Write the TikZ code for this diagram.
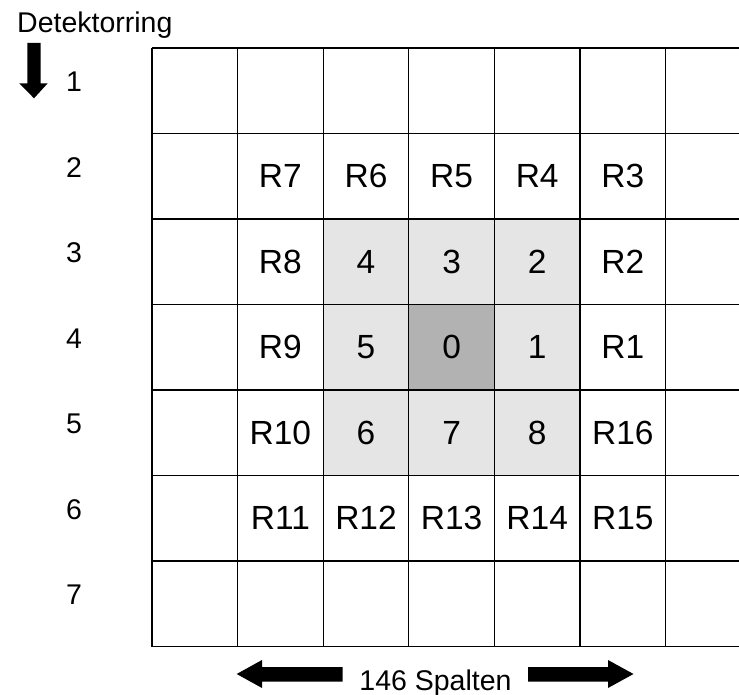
\documentclass[tikz,border=0pt]{standalone}
\usepackage{fontspec}
\setmainfont{Liberation Sans}
\begin{document}
\begin{tikzpicture}[x=1pt,y=-1pt,
  gridline/.style={line width=1.1pt,black},
  lab/.style={inner sep=0pt,font=\fontsize{33.5}{36}\selectfont},
  ringlab/.style={inner sep=0pt,font=\fontsize{28.5}{32}\selectfont},
  blockarrow/.style={fill=black,draw=none}]
\useasboundingbox (0,0) rectangle (739,695);
\def\cw{85.6}
\def\rh{85.5}
% shaded cells
\fill[gray!20] (152+2*\cw,48+2*\rh) rectangle (152+5*\cw,48+5*\rh);
\fill[gray!60] (152+3*\cw,48+3*\rh) rectangle (152+4*\cw,48+4*\rh);
% grid
\begin{scope}
\clip (0,0) rectangle (739,695);
\foreach \k in {0,...,7} {
  \draw[gridline] (152,48+\k*\rh) -- (760,48+\k*\rh);
  \draw[gridline] (152+\k*\cw,48) -- (152+\k*\cw,48+7*\rh);
}
\end{scope}
% cell centres
\foreach \c in {1,...,7} {
  \foreach \r in {1,...,7} {
    \coordinate (c\c r\r) at (152+\c*\cw-0.5*\cw,48+\r*\rh-0.5*\rh);
  }
}
% labels
\node[lab] (r7) at (c2r2) {R7};
\node[lab] (r6) at (c3r2) {R6};
\node[lab] (r5) at (c4r2) {R5};
\node[lab] (r4) at (c5r2) {R4};
\node[lab] (r3) at (c6r2) {R3};
\node[lab] (r8) at (c2r3) {R8};
\node[lab] (n4) at (c3r3) {4};
\node[lab] (n3) at (c4r3) {3};
\node[lab] (n2) at (c5r3) {2};
\node[lab] (r2) at (c6r3) {R2};
\node[lab] (r9) at (c2r4) {R9};
\node[lab] (n5) at (c3r4) {5};
\node[lab] (n0) at (c4r4) {0};
\node[lab] (n1) at (c5r4) {1};
\node[lab] (r1) at (c6r4) {R1};
\node[lab] (r10) at (c2r5) {R10};
\node[lab] (n6) at (c3r5) {6};
\node[lab] (n7) at (c4r5) {7};
\node[lab] (n8) at (c5r5) {8};
\node[lab] (r16) at (c6r5) {R16};
\node[lab] (r11) at (c2r6) {R11};
\node[lab] (r12) at (c3r6) {R12};
\node[lab] (r13) at (c4r6) {R13};
\node[lab] (r14) at (c5r6) {R14};
\node[lab] (r15) at (c6r6) {R15};
% row labels
\foreach \r in {1,...,7} {
  \node[ringlab] (row\r) at (74,48+\r*\rh-0.5*\rh-9) {\r};
}
% title
\node[ringlab,anchor=base west] (title) at (17,33) {Detektorring};
% down arrow
\fill[blockarrow] (27.3,43) -- (40.7,43) -- (40.7,83.3) -- (47.7,83.3) -- (34,98.3) -- (19.3,83.3) -- (27.3,83.3) -- cycle;
% bottom label
\node[ringlab,anchor=base] (spalten) at (435.5,690) {146 Spalten};
% left arrow
\fill[blockarrow] (342.7,667) -- (262,667) -- (262,660) -- (236.7,674) -- (262,688) -- (262,681.5) -- (342.7,681.5) -- cycle;
% right arrow
\fill[blockarrow] (528,667) -- (608,667) -- (608,660) -- (633.5,674) -- (608,688) -- (608,681.5) -- (528,681.5) -- cycle;
\end{tikzpicture}
\end{document}
